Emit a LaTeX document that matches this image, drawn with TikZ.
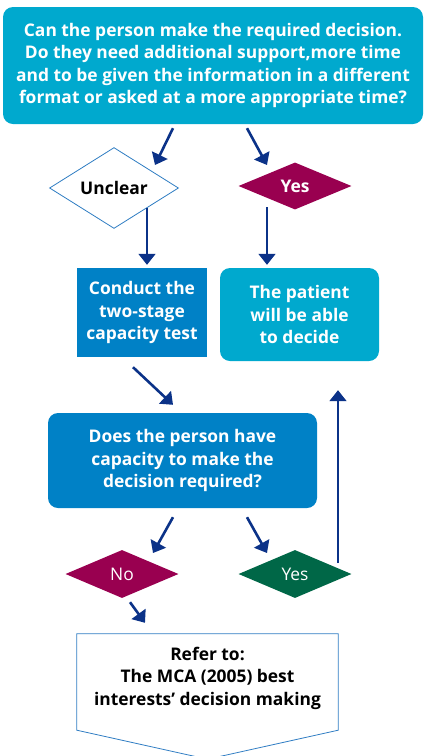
\documentclass[tikz,border=0pt]{standalone}
\usepackage{fontspec}
\setmainfont{Open Sans}
\usetikzlibrary{shapes.geometric,arrows.meta}
\definecolor{nhscyan}{HTML}{00A9CE}
\definecolor{nhsblue}{HTML}{0081C6}
\definecolor{nhsnavy}{HTML}{0B3288}
\definecolor{nhsplum}{HTML}{990050}
\definecolor{nhsgreen}{HTML}{006747}
\definecolor{nhsline}{HTML}{2F7DC3}

\begin{document}
\begin{tikzpicture}[x=1pt,y=-1pt]
  \tikzstyle{every node}=[font=\fontsize{17.4}{22.5}\selectfont\bfseries, text=white, align=center, inner sep=0pt]
  \tikzstyle{box}=[rectangle]
  \tikzstyle{choice}=[diamond, inner sep=0pt, minimum width=113pt, minimum height=48pt]
  \tikzstyle{arrow}=[nhsnavy, line width=2.6pt, -{Triangle[width=17pt,length=11pt]}]
  \tikzstyle{stem}=[arrow, line width=1.8pt]
  \useasboundingbox (0,0) rectangle (424,756);

  % Main boxes
  \node (ask) [box, rounded corners=10pt, fill=nhscyan, minimum width=420pt, minimum height=117pt]
        at (213,65.5)
        {Can the person make the required decision.\\ Do they need additional support,more time\\
         and to be given the information in a different\\ format or asked at a more appropriate time?};

  \node (unclear) [choice, draw=nhsline, line width=0.8pt, fill=white, text=black,
                   minimum width=129pt, minimum height=55pt] at (114,188) {Unclear};
  \node (yes1) [choice, fill=nhsplum, minimum height=47pt, right of=unclear, node distance=181pt,
                yshift=2pt] {Yes};

  \node (conduct) [box, fill=nhsblue, minimum width=130pt, minimum height=89pt] at (142,312.5)
        {Conduct the\\ two-stage\\ capacity test};
  \node (patient) [box, rounded corners=10pt, fill=nhscyan, minimum width=159pt, minimum height=93pt]
        at (299.5,314.5) {The patient\\ will be able\\ to decide};

  \node (capacity) [box, rounded corners=10pt, fill=nhsblue, minimum width=269pt, minimum height=95pt]
        at (182.5,460.5) {Does the person have\\ capacity to make the\\ decision required?};

  \node (no) [choice, fill=nhsplum, font=\fontsize{17.4}{22.5}\selectfont] at (122,574) {No};
  \node (yes2) [choice, fill=nhsgreen, font=\fontsize{17.4}{22.5}\selectfont, right of=no,
                node distance=173pt] {Yes};

  \node (refer) [box, text=black, minimum width=261pt, minimum height=96pt] at (207.5,678)
        {Refer to:\\ The MCA (2005) best\\ interests' decision making};
  \draw[nhsline, line width=0.8pt] ([yshift=-4pt]refer.south west) -- ([yshift=-4pt]refer.north west)
        -- ([yshift=-4pt]refer.north east) -- ([yshift=-4pt]refer.south east)
        -- ([yshift=-33pt]refer.south) -- cycle;

  % Arrows
  \draw[arrow] ([xshift=-40pt,yshift=-4pt]ask.south) to ([xshift=41pt,yshift=23pt]unclear.center);
  \draw[arrow] ([xshift=34pt,yshift=-4pt]ask.south) to ([xshift=-28pt,yshift=21pt]yes1.center);
  \draw[stem] ([xshift=33pt,yshift=-20pt]unclear.center) to ([xshift=5pt,yshift=3pt]conduct.north);
  \draw[stem] ([xshift=-28pt,yshift=-21pt]yes1.center) to ([xshift=-32.5pt,yshift=3pt]patient.north);
  \draw[arrow] ([xshift=-9pt,yshift=-10pt]conduct.south) to ([xshift=-9.5pt,yshift=8pt]capacity.north);
  \draw[arrow] ([xshift=-9.5pt,yshift=-9pt]capacity.south) to ([xshift=31pt,yshift=21pt]no.center);
  \draw[arrow] ([xshift=64.5pt,yshift=-9pt]capacity.south) to ([xshift=-28pt,yshift=21pt]yes2.center);
  \draw[arrow] ([xshift=8pt,yshift=-4pt]no.south) to ([xshift=-62.5pt,yshift=7pt]refer.north);
  \draw[stem] ([xshift=43pt,yshift=11pt]yes2.center) to ([xshift=38.5pt,yshift=-29pt]patient.south);
\end{tikzpicture}
\end{document}
